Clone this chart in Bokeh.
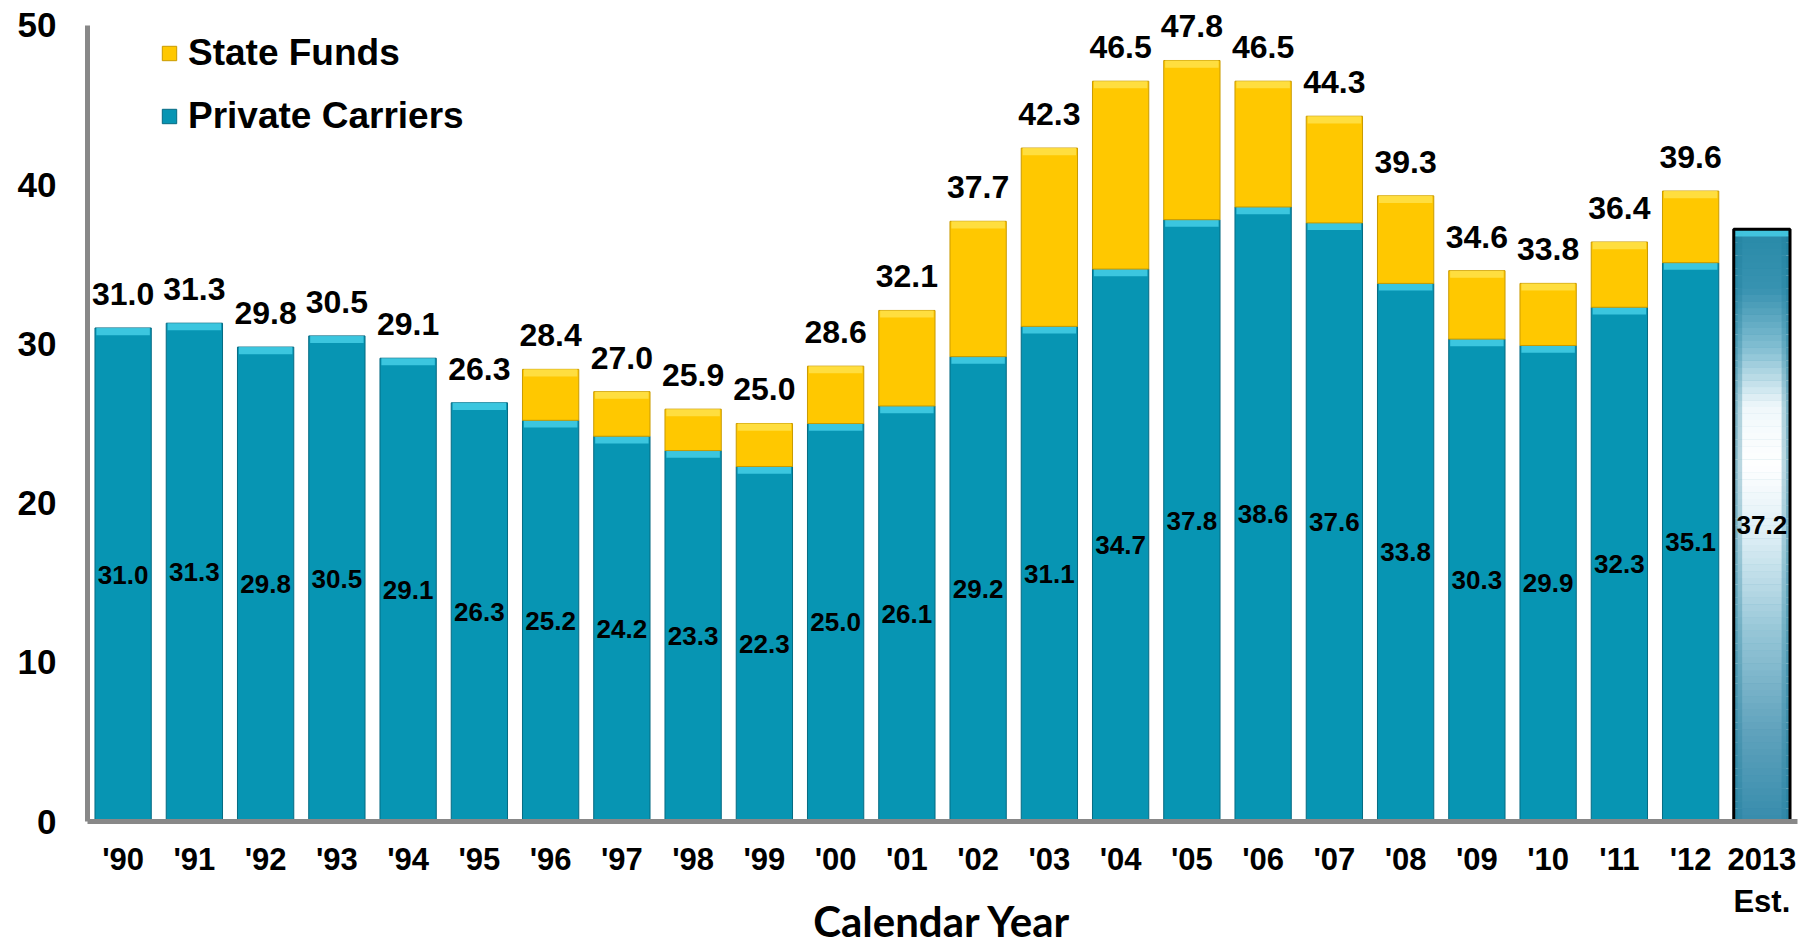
from bokeh.plotting import figure
from bokeh.models import (ColumnDataSource, FactorRange, Range1d, FixedTicker,
                          Legend, LegendItem)
from bokeh.core.properties import value
from bokeh.embed import file_html
from bokeh.resources import INLINE

# ---------------- data ----------------
years = ["'90", "'91", "'92", "'93", "'94", "'95", "'96", "'97", "'98", "'99",
         "'00", "'01", "'02", "'03", "'04", "'05", "'06", "'07", "'08", "'09",
         "'10", "'11", "'12", "2013\nEst."]
private = [31.0, 31.3, 29.8, 30.5, 29.1, 26.3, 25.2, 24.2, 23.3, 22.3,
           25.0, 26.1, 29.2, 31.1, 34.7, 37.8, 38.6, 37.6, 33.8, 30.3,
           29.9, 32.3, 35.1, 37.2]
state = [0.0, 0.0, 0.0, 0.0, 0.0, 0.0, 3.2, 2.8, 2.6, 2.7,
         3.6, 6.0, 8.5, 11.2, 11.8, 10.0, 7.9, 6.7, 5.5, 4.3,
         3.9, 4.1, 4.5, 0.0]
estimate = [False] * 23 + [True]
y_ticks = [0, 10, 20, 30, 40, 50]
series_names = ["State Funds", "Private Carriers"]
x_title = "Calendar Year"

# ---------------- styles ----------------
FONT = "Liberation Sans"
TEAL = "#0795B3"
TEAL_EDGE = "#056A82"
TEAL_BEVEL = "#48D2EA"
GOLD = "#FFC800"
GOLD_EDGE = "#C99A00"
GOLD_BEVEL = "#FFE24A"
AXIS_GREY = "#888888"
BAR_W = 0.79
PX_PER_UNIT = 797 / 50.0
Y_TOP = 822 / PX_PER_UNIT
BEVEL = 0.45

p = figure(width=1812, height=948,
           x_range=FactorRange(factors=years),
           y_range=Range1d(0, Y_TOP),
           output_backend="svg", toolbar_location=None,
           min_border_left=87, min_border_right=15,
           min_border_top=0, min_border_bottom=126,
           outline_line_color=None, background_fill_color="white",
           border_fill_color="white")

act = [i for i, e in enumerate(estimate) if not e]
est = [i for i, e in enumerate(estimate) if e]

priv_src = ColumnDataSource(dict(
    x=[years[i] for i in act],
    top=[private[i] for i in act],
    bevel_bottom=[private[i] - BEVEL for i in act],
))
r_priv = p.vbar(x="x", top="top", bottom=0, width=BAR_W, source=priv_src,
                fill_color=TEAL, line_color=TEAL_EDGE, line_width=1)
p.vbar(x="x", top="top", bottom="bevel_bottom", width=BAR_W - 0.04, source=priv_src,
       fill_color=TEAL_BEVEL, line_color=None, fill_alpha=0.8)

st_idx = [i for i in act if state[i] > 0]
state_src = ColumnDataSource(dict(
    x=[years[i] for i in st_idx],
    bottom=[private[i] for i in st_idx],
    top=[private[i] + state[i] for i in st_idx],
    bevel_bottom=[private[i] + state[i] - BEVEL for i in st_idx],
))
r_state = p.vbar(x="x", top="top", bottom="bottom", width=BAR_W, source=state_src,
                 fill_color=GOLD, line_color=GOLD_EDGE, line_width=1)
p.vbar(x="x", top="top", bottom="bevel_bottom", width=BAR_W - 0.04, source=state_src,
       fill_color=GOLD_BEVEL, line_color=None, fill_alpha=0.85)

# estimate bar: vertical gradient teal -> white -> teal, built from slices
stops = [(0.00, (55, 140, 172)), (0.15, (95, 162, 188)), (0.32, (150, 198, 215)),
         (0.48, (220, 238, 245)), (0.60, (255, 255, 255)), (0.70, (240, 248, 251)),
         (0.80, (130, 190, 210)), (0.90, (55, 146, 176)), (1.00, (40, 138, 168))]


def grad(t):
    for (t0, c0), (t1, c1) in zip(stops[:-1], stops[1:]):
        if t0 <= t <= t1:
            f = (t - t0) / (t1 - t0)
            return tuple(int(round(a + (b - a) * f)) for a, b in zip(c0, c1))
    return stops[-1][1]


def hexc(c):
    return "#%02x%02x%02x" % c


N = 90
for i in est:
    v = private[i]
    xs, bots, tops, cols_out, cols_mid, cols_in = [], [], [], [], [], []
    for k in range(N):
        t = (k + 0.5) / N
        c = grad(t)
        dark = tuple(int(a * 0.45 + b * 0.55) for a, b in zip(c, (30, 125, 155)))
        mid = tuple(int(a * 0.7 + b * 0.3) for a, b in zip(c, (30, 125, 155)))
        xs.append(years[i])
        bots.append(v * k / N)
        tops.append(v * (k + 1) / N + 0.01)
        cols_out.append(hexc(dark))
        cols_mid.append(hexc(mid))
        cols_in.append(hexc(c))
    gsrc = ColumnDataSource(dict(x=xs, bottom=bots, top=tops,
                                 co=cols_out, cm=cols_mid, ci=cols_in))
    p.vbar(x="x", bottom="bottom", top="top", width=BAR_W, source=gsrc,
           fill_color="co", line_color=None)
    p.vbar(x="x", bottom="bottom", top="top", width=BAR_W * 0.86, source=gsrc,
           fill_color="cm", line_color=None)
    p.vbar(x="x", bottom="bottom", top="top", width=BAR_W * 0.70, source=gsrc,
           fill_color="ci", line_color=None)
    p.vbar(x=[years[i]], bottom=[v - BEVEL], top=[v], width=BAR_W - 0.04,
           fill_color=TEAL_BEVEL, line_color=None, fill_alpha=0.8)
    p.vbar(x=[years[i]], bottom=[0], top=[v], width=BAR_W,
           fill_color=None, line_color="black", line_width=3)

# labels inside private segments
in_src = ColumnDataSource(dict(
    x=years, y=[v / 2 for v in private], t=["%.1f" % v for v in private]))
p.text(x="x", y="y", text="t", source=in_src, text_align="center",
       text_baseline="middle", text_font=value(FONT), text_font_style="bold",
       text_font_size="26px", text_color="black")

# total labels above bars (actual years only)
tot_src = ColumnDataSource(dict(
    x=[years[i] for i in act],
    y=[private[i] + state[i] for i in act],
    t=["%.1f" % (private[i] + state[i]) for i in act]))
p.text(x="x", y="y", text="t", source=tot_src, text_align="center",
       text_baseline="alphabetic", y_offset=-34, text_font=value(FONT),
       text_font_style="bold", text_font_size="32px", text_color="black")

# axes
p.xgrid.visible = False
p.ygrid.visible = False
p.yaxis.ticker = FixedTicker(ticks=y_ticks)
p.yaxis.bounds = (y_ticks[0], y_ticks[-1])
for ax in (p.xaxis[0], p.yaxis[0]):
    ax.axis_line_color = AXIS_GREY
    ax.axis_line_width = 5
    ax.major_tick_line_color = None
    ax.minor_tick_line_color = None
    ax.major_tick_out = 0
    ax.major_tick_in = 0
    ax.major_label_text_font = FONT
    ax.major_label_text_font_style = "bold"
    ax.major_label_text_color = "black"
p.yaxis.major_label_text_font_size = "35px"
p.yaxis.major_label_standoff = 31
p.xaxis.major_label_text_font_size = "31px"
p.xaxis.major_label_standoff = 20
p.xaxis.axis_label = x_title
p.xaxis.axis_label_text_font = "Lato"
p.xaxis.axis_label_text_font_style = "bold"
p.xaxis.axis_label_text_font_size = "42px"
p.xaxis.axis_label_text_color = "black"
p.xaxis.axis_label_standoff = -26

# legend
legend = Legend(items=[LegendItem(label=series_names[0], renderers=[r_state]),
                       LegendItem(label=series_names[1], renderers=[r_priv])],
                location=(73, 684), orientation="vertical",
                glyph_width=18, glyph_height=18, label_standoff=10,
                label_text_font=FONT, label_text_font_style="bold",
                label_text_font_size="37px", label_text_color="black",
                spacing=21, padding=0, margin=0,
                border_line_color=None, background_fill_alpha=0)
p.add_layout(legend)

open("out.html", "w").write(file_html(p, INLINE))
